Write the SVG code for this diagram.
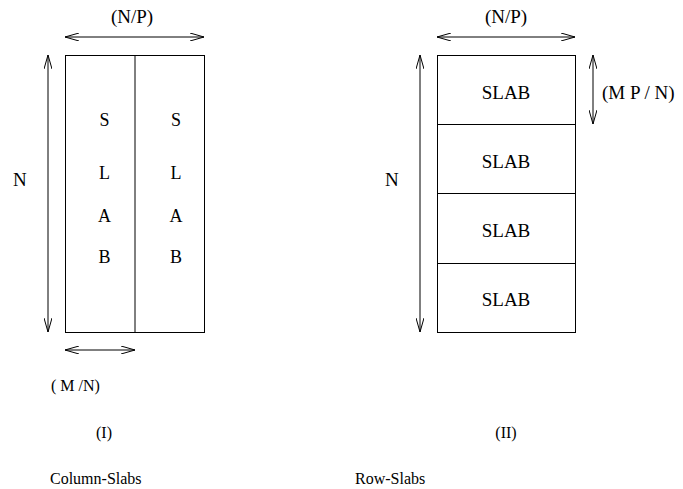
<svg xmlns="http://www.w3.org/2000/svg" width="683" height="489" viewBox="0 0 683 489">
<defs>
<style>
text{font-family:"Liberation Serif","Times New Roman",serif;font-size:16px;fill:#000}
.m{text-anchor:middle}
text.big{font-size:19px}
text.mid{font-size:18px}
text.slab{font-size:19px}
.box{fill:#fff;stroke:#000;stroke-width:1}
.ln{stroke:#000;stroke-width:1;fill:none}
.ar{stroke:#000;stroke-width:1;fill:none;marker-start:url(#h);marker-end:url(#h)}
</style>
<marker id="h" viewBox="0 0 14 8" refX="14" refY="4" markerWidth="14" markerHeight="8" markerUnits="userSpaceOnUse" orient="auto-start-reverse">
<path d="M0,0 L14,4 L0,8" fill="none" stroke="#000" stroke-width="1"/>
</marker>
</defs>
<g id="connectors">
<line class="ar" x1="65" y1="37" x2="204" y2="37"/>
<line class="ar" x1="48" y1="55" x2="48" y2="332"/>
<line class="ar" x1="65" y1="350" x2="135" y2="350"/>
<line class="ar" x1="437" y1="37" x2="575" y2="37"/>
<line class="ar" x1="420" y1="55" x2="420" y2="332"/>
<line class="ar" x1="593" y1="55" x2="593" y2="124"/>
</g>
<g id="column-slabs">
<rect class="box" x="65.5" y="55.5" width="139" height="277"/>
<line class="ln" x1="135" y1="55.5" x2="135" y2="332.5"/>
<text class="m mid" x="104.5" y="126">S</text><text class="m mid" x="104.5" y="179">L</text><text class="m mid" x="104.5" y="222">A</text><text class="m mid" x="104.5" y="263">B</text>
<text class="m mid" x="176" y="126">S</text><text class="m mid" x="176" y="179">L</text><text class="m mid" x="176" y="222">A</text><text class="m mid" x="176" y="263">B</text>
</g>
<g id="row-slabs">
<rect class="box" x="437.5" y="55.5" width="138" height="277"/>
<line class="ln" x1="437.5" y1="124.5" x2="575.5" y2="124.5"/>
<line class="ln" x1="437.5" y1="193.5" x2="575.5" y2="193.5"/>
<line class="ln" x1="437.5" y1="263.5" x2="575.5" y2="263.5"/>
<text class="m slab" x="506" y="99">SLAB</text>
<text class="m slab" x="506" y="168">SLAB</text>
<text class="m slab" x="506" y="237">SLAB</text>
<text class="m slab" x="506" y="306">SLAB</text>
</g>
<g id="labels">
<text class="m big" x="132" y="23">(N/P)</text>
<text class="m big" x="506" y="23">(N/P)</text>
<text class="big" x="13" y="186">N</text>
<text class="big" x="385" y="186">N</text>
<text class="big" x="602" y="99">(M P / N)</text>
<text x="51" y="391">( M /N)</text>
<text class="m" x="104" y="438">(I)</text>
<text class="m" x="506" y="438">(II)</text>
<text x="50" y="484">Column-Slabs</text>
<text x="355" y="484">Row-Slabs</text>
</g>
</svg>
